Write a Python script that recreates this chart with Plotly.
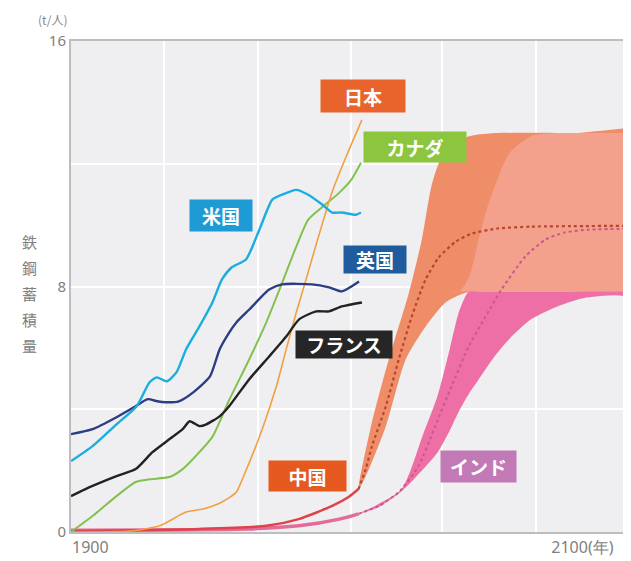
import numpy as np
import plotly.graph_objects as go

# ---- data (year, t/person) ----
us_years = [1900, 1909, 1919, 1927.4, 1932.8, 1935.8, 1940, 1944, 1948, 1953.6, 1959, 1963, 1967, 1973, 1978.6, 1984, 1988, 1994, 1999, 2004.8, 2009, 2013, 2019, 2021]
us_vals = [2.31, 2.80, 3.51, 4.10, 4.88, 5.04, 4.91, 5.20, 5.95, 6.70, 7.48, 8.23, 8.62, 8.88, 9.85, 10.83, 10.99, 11.15, 10.99, 10.67, 10.41, 10.41, 10.34, 10.41]

uk_years = [1900, 1909, 1919, 1927, 1932, 1936, 1939.5, 1945, 1951, 1958, 1962, 1966, 1969, 1974.4, 1982.7, 1988, 2000.6, 2007.7, 2013, 2020.2]
uk_vals = [3.19, 3.35, 3.74, 4.10, 4.33, 4.26, 4.23, 4.26, 4.55, 5.07, 5.95, 6.50, 6.83, 7.25, 7.90, 8.07, 8.07, 7.97, 7.84, 8.16]

fr_years = [1900, 1909, 1919, 1927, 1934, 1941, 1946.6, 1949.5, 1953.6, 1956.5, 1962, 1966, 1974.4, 1982.7, 1989.8, 1995.2, 2002.3, 2007.7, 2013, 2021.4]
fr_vals = [1.17, 1.50, 1.82, 2.05, 2.60, 3.02, 3.35, 3.61, 3.45, 3.51, 3.77, 4.10, 4.98, 5.72, 6.37, 6.93, 7.19, 7.19, 7.35, 7.48]

ca_years = [1900, 1909, 1919, 1927, 1933, 1941, 1946.6, 1952, 1959, 1966, 1974.4, 1981.5, 1987, 1994, 1999, 2005, 2012, 2017, 2021]
ca_vals = [0.0, 0.52, 1.17, 1.63, 1.72, 1.79, 2.05, 2.47, 3.10, 4.30, 5.63, 6.83, 7.90, 9.30, 10.18, 10.60, 11.06, 11.48, 12.03]

jp_years = [1900, 1924.5, 1937, 1948, 1955, 1963, 1969, 1971.5, 1979.8, 1985.7, 1989.8, 1994, 1998.1, 2002.3, 2009, 2014.8, 2021.4]
jp_vals = [0.0, 0.03, 0.20, 0.65, 0.75, 0.98, 1.30, 1.72, 3.35, 4.75, 5.95, 7.15, 8.23, 9.37, 11.09, 12.23, 13.43]

cn_years = [1900, 1953.6, 1981.5, 1995, 2009, 2016, 2020]
cn_vals = [0.03, 0.10, 0.20, 0.42, 0.85, 1.15, 1.40]

cn_proj_years = [2020, 2023, 2025.6, 2031.4, 2036.8, 2042.2, 2048, 2053.4, 2060.5, 2067, 2078, 2092, 2140]
cn_proj_vals = [1.40, 2.05, 2.80, 4.10, 5.63, 7.02, 8.23, 8.94, 9.46, 9.72, 9.89, 9.95, 9.98]

cn_up_years = [2020, 2025.2, 2032.6, 2041, 2046.4, 2050.5, 2054.7, 2061.7, 2068.8, 2078.4, 2110, 2150]
cn_up_vals = [1.40, 3.45, 5.63, 7.80, 9.53, 11.30, 12.23, 12.78, 12.94, 13.0, 13.0, 13.0]
cn_lo_years = [2020, 2023, 2031.4, 2039.7, 2048, 2056.3, 2064.7, 2078, 2110, 2150]
cn_lo_vals = [1.40, 1.82, 3.45, 5.63, 6.70, 7.48, 7.80, 7.84, 7.84, 7.84]
cn_lo_plateau = 7.84

in_years = [1900, 1974, 1995, 2012, 2020]
in_vals = [0.06, 0.10, 0.20, 0.42, 0.59]

in_proj_years = [2020, 2028.5, 2036.8, 2045, 2052, 2058.8, 2066, 2073, 2079.6, 2089.6, 2098, 2106, 2115.8, 2140]
in_proj_vals = [0.59, 0.85, 1.30, 2.15, 3.45, 4.75, 6.05, 7.02, 7.90, 8.98, 9.53, 9.76, 9.85, 9.89]

in_band_years = [2020, 2028, 2038, 2047, 2053, 2058, 2062, 2066, 2070, 2073, 2077, 2083, 2092, 2103, 2115, 2131.6, 2150]
in_up_vals = [0.59, 0.90, 1.40, 3.20, 4.45, 5.95, 7.20, 8.30, 9.50, 10.40, 11.30, 12.35, 12.90, 13.0, 13.0, 13.0, 13.0]
in_lo_vals = [0.59, 0.80, 1.33, 2.05, 2.60, 3.30, 3.95, 4.50, 4.95, 5.30, 5.75, 6.30, 6.93, 7.35, 7.64, 7.74, 7.80]

labels = ["米国", "日本", "カナダ", "英国", "フランス", "中国", "インド"]
label_x = [1962.8, 2021.8, 2043.4, 2026.8, 2013.9, 1998.5, 2070.0]
label_y = [10.31, 14.21, 12.55, 8.88, 6.11, 1.82, 2.15]
label_colors = ["#1e9bd4", "#e8642c", "#8cc63f", "#1f5c9e", "#262626", "#e5581e", "#c27ab6"]
label_w = [62, 84, 102, 62, 96, 77, 75]
label_h = [31, 32, 30, 27, 27, 30, 31]

x_tick_vals = [1900, 2100]
x_tick_text = ["1900", "2100(年)"]
x_grid_vals = [1939, 1978, 2017, 2055, 2094]
y_tick_vals = [0, 4, 8, 12, 16]
y_tick_text = ["0", "", "8", "", "16"]

# ---- figure ----
fig = go.Figure()

def band(xs_up, ys_up, xs_lo, ys_lo, color):
    xs = list(xs_up) + list(xs_lo)[::-1]
    ys = list(ys_up) + list(ys_lo)[::-1]
    fig.add_trace(go.Scatter(x=xs, y=ys, fill="toself", fillcolor=color,
                             mode="lines", line=dict(width=0, shape="spline", smoothing=0.7),
                             hoverinfo="skip", showlegend=False))

# China band
band(cn_up_years, cn_up_vals, cn_lo_years, cn_lo_vals, "#ee8d68")
# India band (below China lower bound -> pink; above -> overlap tint)
iu = np.array(in_up_vals)
il = np.array(in_lo_vals)
band(in_band_years, np.minimum(iu, cn_lo_plateau), in_band_years, il, "#ee6fa6")
band(in_band_years, np.maximum(iu, cn_lo_plateau), in_band_years,
     np.full_like(iu, cn_lo_plateau), "#f3a08c")

def line(xs, ys, color, width, dash="solid"):
    fig.add_trace(go.Scatter(x=xs, y=ys, mode="lines",
                             line=dict(color=color, width=width, dash=dash, shape="spline", smoothing=0.6),
                             hoverinfo="skip", showlegend=False))

line(in_proj_years, in_proj_vals, "#c8588e", 2, "dot")
line(cn_proj_years, cn_proj_vals, "#b8462c", 2.2, "dot")
line(in_years, in_vals, "#e46a9a", 3.5)
line(cn_years, cn_vals, "#e0424a", 2.5)
line(ca_years, ca_vals, "#84c050", 2)
line(jp_years, jp_vals, "#f0a040", 1.6)
line(fr_years, fr_vals, "#222222", 2.4)
line(uk_years, uk_vals, "#2c3d84", 2.4)
line(us_years, us_vals, "#1aaee0", 2.4)

for t, x, y, c, w, h in zip(labels, label_x, label_y, label_colors, label_w, label_h):
    fig.add_annotation(x=x, y=y, xref="x", yref="y", text="<b>%s</b>" % t,
                       showarrow=False, bgcolor=c, width=w, height=h,
                       xanchor="center", yanchor="middle",
                       font=dict(family="Noto Sans CJK JP", size=19, color="white"),
                       align="center", valign="middle", borderpad=0)

# page body has an 8px margin: figure is sized to fit the window
OFF = 8
W, H = 631 - OFF, 561 - OFF
PL, PR, PT, PB = 71, 628, 41, 533          # plot area in window pixels
L, R, T, B = PL - OFF, 631 - PR, PT - OFF, 561 - PB
pw, ph = PR - PL, PB - PT

def px2paper(px, py):
    return (px - PL) / pw, 1 - (py - PT) / ph

ux, uy = px2paper(52, 19)
fig.add_annotation(x=ux, y=uy, xref="paper", yref="paper", text="(t/人)", showarrow=False,
                   xanchor="center", yanchor="middle",
                   font=dict(family="Noto Sans CJK JP", size=12, color="#888888"))
for i, ch in enumerate("鉄鋼蓄積量"):
    cx, cy = px2paper(29, 242 + i * 26)
    fig.add_annotation(x=cx, y=cy, xref="paper", yref="paper", text=ch, showarrow=False,
                       xanchor="center", yanchor="middle",
                       font=dict(family="Noto Sans CJK JP", size=15, color="#808080"))

fig.update_layout(
    width=W, height=H,
    margin=dict(l=L, r=R, t=T, b=B),
    paper_bgcolor="white",
    plot_bgcolor="#efeff1",
    showlegend=False,
    xaxis=dict(range=[1900, 2131.6], tickvals=x_tick_vals, ticktext=x_tick_text,
               ticklabelposition="outside right", showgrid=False, zeroline=False,
               showline=True, linecolor="#bdbdbd", linewidth=2, mirror=True,
               ticks="", tickfont=dict(family="Noto Sans", size=16, color="#808080"),
               minor=dict(tickvals=x_grid_vals, showgrid=True, gridcolor="white", gridwidth=2, ticks="")),
    yaxis=dict(range=[0, 16], tickvals=y_tick_vals, ticktext=y_tick_text,
               showgrid=True, gridcolor="white", gridwidth=2, zeroline=False,
               showline=True, linecolor="#bdbdbd", linewidth=2, mirror=True,
               ticks="", tickfont=dict(family="Noto Sans", size=15, color="#808080")),
)

fig.write_html("out.html")
